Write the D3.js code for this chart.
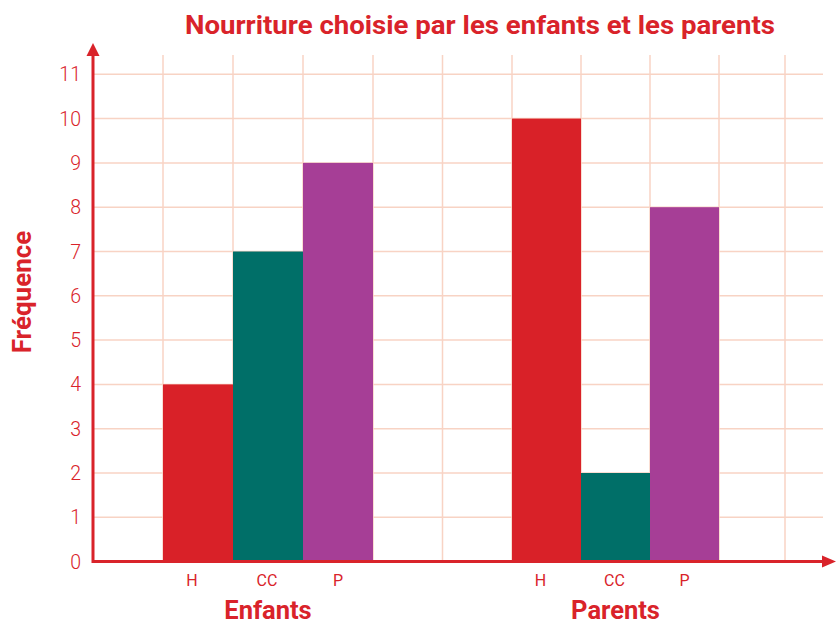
<!DOCTYPE html>
<html>
<head>
<meta charset="utf-8">
<script src="https://cdn.jsdelivr.net/npm/d3@7"></script>
<style>
  body { margin: 0; background: #fff; }
  text { font-family: Roboto, "Liberation Sans", sans-serif; }
</style>
</head>
<body>
<div id="chart"></div>
<script>
// data
let groups = ["Enfants", "Parents"];
let foods = ["H", "CC", "P"];
let enfants = [4, 7, 9];
let parents = [10, 2, 8];
let yTicks = [0, 1, 2, 3, 4, 5, 6, 7, 8, 9, 10, 11];

let colors = ["#d92128", "#006f68", "#a63e96"];
let red = "#d9232a";
let gridColor = "#f8d3c4";

let svgWidth = 836;
let svgHeight = 624;

let svg = d3.select("#chart")
  .append("svg")
  .attr("width", svgWidth)
  .attr("height", svgHeight);

// one slot per grid cell, groups start at slot 1 and 6
// (the printed grid is slightly uneven, so a piecewise scale)
let x = d3.scaleLinear()
  .domain([0, 1, 4, 6, 9, 10])
  .range([93, 163, 373, 512, 719, 785]);
let y = d3.scaleLinear().domain([0, 11]).range([561.6, 74.3]);
let groupStart = [1, 6];

// grid
svg.append("g").selectAll("line")
  .data(yTicks.slice(1))
  .enter().append("line")
  .attr("x1", 93).attr("x2", 823)
  .attr("y1", d => y(d)).attr("y2", d => y(d))
  .attr("stroke", gridColor).attr("stroke-width", 1.5);

svg.append("g").selectAll("line")
  .data(d3.range(1, 11))
  .enter().append("line")
  .attr("x1", d => x(d)).attr("x2", d => x(d))
  .attr("y1", 55).attr("y2", 562)
  .attr("stroke", gridColor).attr("stroke-width", 1.5);

// bars
let rows = [];
groups.forEach(function(g, gi) {
  let vals = gi == 0 ? enfants : parents;
  foods.forEach(function(f, fi) {
    rows.push({ group: g, food: f, value: vals[fi], slot: groupStart[gi] + fi, color: colors[fi] });
  });
});

svg.append("g").selectAll("rect")
  .data(rows)
  .enter().append("rect")
  .attr("x", d => x(d.slot))
  .attr("width", d => x(d.slot + 1) - x(d.slot))
  .attr("y", d => y(d.value))
  .attr("height", d => y(0) - y(d.value))
  .attr("fill", d => d.color);

// axes
svg.append("line")
  .attr("x1", 93).attr("x2", 826)
  .attr("y1", y(0)).attr("y2", y(0))
  .attr("stroke", red).attr("stroke-width", 3);
svg.append("path")
  .attr("d", `M836,${y(0)} L822,${y(0) - 6} L822,${y(0) + 6} Z`)
  .attr("fill", red);

svg.append("line")
  .attr("x1", 93).attr("x2", 93)
  .attr("y1", y(0) + 1.5).attr("y2", 52)
  .attr("stroke", red).attr("stroke-width", 3);
svg.append("path")
  .attr("d", "M93,43 L86.5,56 L99.5,56 Z")
  .attr("fill", red);

// y tick labels
svg.append("g").selectAll("text")
  .data(yTicks)
  .enter().append("text")
  .attr("x", 81)
  .attr("y", d => y(d))
  .attr("dy", "0.36em")
  .attr("text-anchor", "end")
  .attr("font-size", 19.5)
  .attr("font-weight", 300)
  .attr("fill", red)
  .text(d => d);

// category labels ("H" sits a little left of its bar centre)
let labelShift = { H: -6, CC: -1, P: 0 };
svg.append("g").selectAll("text")
  .data(rows)
  .enter().append("text")
  .attr("x", d => x(d.slot + 0.5) + labelShift[d.food])
  .attr("y", 586)
  .attr("text-anchor", "middle")
  .attr("font-size", 16)
  .attr("fill", red)
  .text(d => d.food);

// group labels
svg.append("g").selectAll("text")
  .data(groups)
  .enter().append("text")
  .attr("x", (d, i) => x(groupStart[i] + 1.5))
  .attr("y", 619)
  .attr("text-anchor", "middle")
  .attr("font-size", 25.5)
  .attr("font-weight", "bold")
  .attr("fill", red)
  .text(d => d);

// y label
svg.append("text")
  .attr("transform", "translate(31, 292) rotate(-90)")
  .attr("text-anchor", "middle")
  .attr("font-size", 26)
  .attr("font-weight", "bold")
  .attr("fill", red)
  .text("Fréquence");

// title
svg.append("text")
  .attr("x", 185)
  .attr("y", 34)
  .attr("textLength", 590)
  .attr("lengthAdjust", "spacingAndGlyphs")
  .attr("font-size", 26)
  .attr("font-weight", "bold")
  .attr("fill", red)
  .text("Nourriture choisie par les enfants et les parents");
</script>
</body>
</html>
